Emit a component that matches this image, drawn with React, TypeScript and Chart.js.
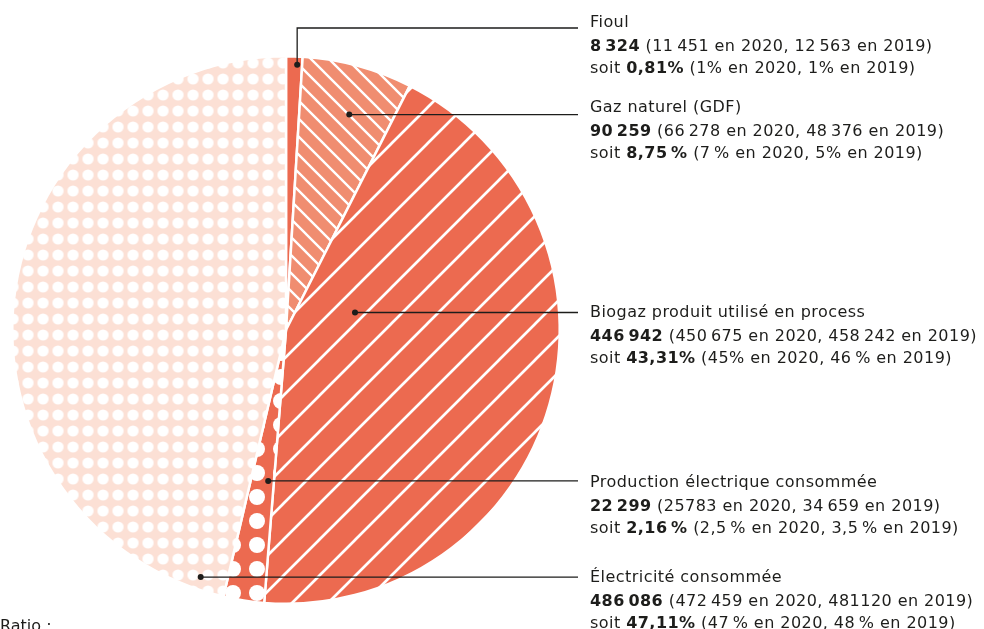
import React, { useEffect, useRef } from "react";
import { Chart, registerables } from "chart.js";

Chart.register(...registerables);

// ---- data ----
const categories = [
  "Fioul",
  "Gaz naturel (GDF)",
  "Biogaz produit utilisé en process",
  "Production électrique consommée",
  "Électricité consommée",
];
// slice shares (%) as drawn in the pie
const sliceShares = [0.97, 6.5, 43.8, 2.4, 46.33];
// values written in the labels
const values2021 = ["8\u2009324", "90\u2009259", "446\u2009942", "22\u2009299", "486\u2009086"];
const detailValues = [
  "(11\u2009451 en 2020, 12\u2009563 en 2019)",
  "(66\u2009278 en 2020, 48\u2009376 en 2019)",
  "(450\u2009675 en 2020, 458\u2009242 en 2019)",
  "(25783 en 2020, 34\u2009659 en 2019)",
  "(472\u2009459 en 2020, 481120 en 2019)",
];
const percents2021 = ["0,81%", "8,75\u2009%", "43,31%", "2,16\u2009%", "47,11%"];
const detailPercents = [
  "(1% en 2020, 1% en 2019)",
  "(7\u2009% en 2020, 5% en 2019)",
  "(45% en 2020, 46\u2009% en 2019)",
  "(2,5\u2009% en 2020, 3,5\u2009% en 2019)",
  "(47\u2009% en 2020, 48\u2009% en 2019)",
];

// ---- styles / layout ----
const RED = "#EC6A50";
const SALMON = "#F08D70";
const PINK = "#FCE0D5";
const INK = "#1d1d1b";
const FONT = "'DejaVu Sans', sans-serif";
const labelTops = [11, 96, 301, 471, 566];
// leader anchor: fraction of slice angle, fraction of radius
const anchorAngleFrac = [0.69, 0.55, 0.31, 0.25, 0.035];
const anchorRadiusFrac = [0.97, 0.82, 0.26, 0.555, 0.955];
const LEADER_END_X = 578;
const FIOUL_LINE_Y = 28;

function makeTile(w: number, h: number, draw: (c: CanvasRenderingContext2D) => void) {
  const cv = document.createElement("canvas");
  cv.width = w;
  cv.height = h;
  const c = cv.getContext("2d")!;
  draw(c);
  return cv;
}

function hatch(bg: string, size: number, lw: number, dir: "back" | "fwd", ox: number, ctx: CanvasRenderingContext2D) {
  const tile = makeTile(size, size, (c) => {
    c.fillStyle = bg;
    c.fillRect(0, 0, size, size);
    c.strokeStyle = "#ffffff";
    c.lineWidth = lw;
    c.beginPath();
    if (dir === "back") {
      c.moveTo(-size, -size); c.lineTo(2 * size, 2 * size);
      c.moveTo(-size, 0); c.lineTo(size, 2 * size);
      c.moveTo(0, -size); c.lineTo(2 * size, size);
    } else {
      c.moveTo(-size, 2 * size); c.lineTo(2 * size, -size);
      c.moveTo(-size, size); c.lineTo(size, -size);
      c.moveTo(0, 2 * size); c.lineTo(2 * size, 0);
    }
    c.stroke();
  });
  const p = ctx.createPattern(tile, "repeat")!;
  p.setTransform(new DOMMatrix().translate(ox, 0));
  return p;
}

function dots(bg: string, w: number, h: number, r: number, ox: number, oy: number, ctx: CanvasRenderingContext2D) {
  const tile = makeTile(w, h, (c) => {
    c.fillStyle = bg;
    c.fillRect(0, 0, w, h);
    c.fillStyle = "#ffffff";
    c.beginPath();
    c.arc(w / 2, h / 2, r, 0, Math.PI * 2);
    c.fill();
  });
  const p = ctx.createPattern(tile, "repeat")!;
  p.setTransform(new DOMMatrix().translate(ox, oy));
  return p;
}

const leaderPlugin = {
  id: "leaders",
  afterDraw(chart: any) {
    const ctx = chart.ctx as CanvasRenderingContext2D;
    const arcs = chart.getDatasetMeta(0).data;
    ctx.save();
    ctx.strokeStyle = INK;
    ctx.fillStyle = INK;
    ctx.lineWidth = 1.3;
    arcs.forEach((arc: any, i: number) => {
      const { x, y, startAngle, endAngle, outerRadius } = arc.getProps(
        ["x", "y", "startAngle", "endAngle", "outerRadius"], true
      );
      const a = startAngle + (endAngle - startAngle) * anchorAngleFrac[i];
      const r = outerRadius * anchorRadiusFrac[i];
      const px = x + Math.cos(a) * r;
      const py = y + Math.sin(a) * r;
      ctx.beginPath();
      if (i === 0) {
        ctx.moveTo(px, py);
        ctx.lineTo(px, FIOUL_LINE_Y);
        ctx.lineTo(LEADER_END_X, FIOUL_LINE_Y);
      } else {
        ctx.moveTo(px, py);
        ctx.lineTo(LEADER_END_X, py);
      }
      ctx.stroke();
      ctx.beginPath();
      ctx.arc(px, py, 3, 0, Math.PI * 2);
      ctx.fill();
    });
    ctx.restore();
  },
};

export default function App() {
  const ref = useRef<HTMLCanvasElement>(null);
  useEffect(() => {
    document.body.style.margin = "0";
    const canvas = ref.current!;
    const ctx = canvas.getContext("2d")!;
    const fills = [
      RED,
      hatch(SALMON, 18, 2.4, "back", 0, ctx),
      hatch(RED, 36, 2.7, "fwd", 31, ctx),
      dots(RED, 24, 24, 8, 17 - 12, 17 - 12, ctx),
      dots(PINK, 15, 16, 5.6, 13 - 7.5, 15 - 8, ctx),
    ];
    const chart = new Chart(canvas, {
      type: "pie",
      data: {
        labels: categories,
        datasets: [
          {
            data: sliceShares,
            backgroundColor: fills as any,
            borderColor: "#ffffff",
            borderWidth: 2.5,
          },
        ],
      },
      options: {
        responsive: false,
        animation: false,
        layout: { padding: { left: 11, right: 423, top: 55, bottom: 24 } },
        plugins: { legend: { display: false }, tooltip: { enabled: false } },
      },
      plugins: [leaderPlugin],
    });
    return () => chart.destroy();
  }, []);

  return (
    <div style={{ position: "absolute", left: 0, top: 0, width: 984, height: 629, overflow: "hidden", background: "#fff" }}>
      <canvas ref={ref} width={984} height={629} style={{ position: "absolute", left: 0, top: 0 }} />
      {categories.map((c, i) => (
        <div
          key={c}
          style={{
            position: "absolute",
            left: 590,
            top: labelTops[i],
            fontFamily: FONT,
            fontSize: 16,
            letterSpacing: "0.45px",
            lineHeight: "22px",
            color: INK,
            whiteSpace: "nowrap",
          }}
        >
          <div style={{ marginBottom: 2 }}>{c}</div>
          <div>
            <b>{values2021[i]}</b> {detailValues[i]}
          </div>
          <div>
            soit <b>{percents2021[i]}</b> {detailPercents[i]}
          </div>
        </div>
      ))}
      <div style={{ position: "absolute", left: 0, top: 616, fontFamily: FONT, fontSize: 16, color: INK }}>Ratio :</div>
    </div>
  );
}
